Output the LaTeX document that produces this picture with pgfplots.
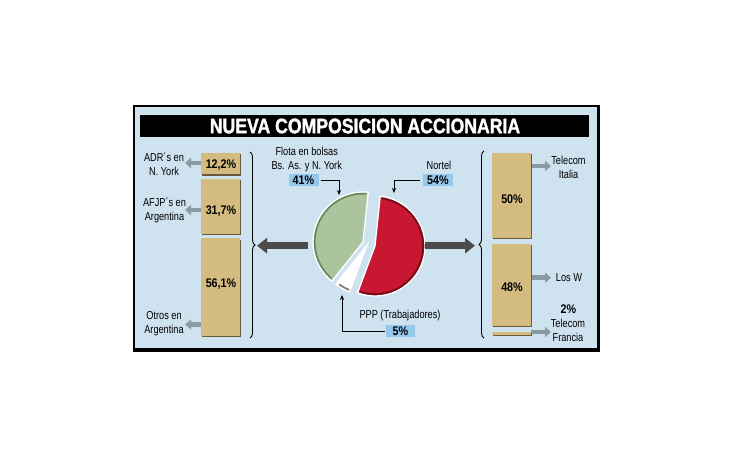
\documentclass[border=0pt]{standalone}
\usepackage{pgfplots}
\pgfplotsset{compat=1.18}
\usepackage{fontspec}
\setmainfont{Liberation Sans}
\newfontfamily\cond[FakeStretch=0.8]{Liberation Sans}
\newfontfamily\condb[FakeStretch=0.86]{Liberation Sans}
\newfontfamily\titlef[FakeStretch=0.84,FakeBold=1.4]{Liberation Sans Bold}
\usetikzlibrary{arrows.meta,decorations.pathreplacing}

\definecolor{panel}{RGB}{207,226,240}
\definecolor{tanc}{RGB}{212,188,128}
\definecolor{tandark}{RGB}{105,88,58}
\definecolor{boxblue}{RGB}{150,200,236}
\definecolor{grayarrow}{RGB}{140,154,164}
\definecolor{bigarrow}{RGB}{75,75,75}
\definecolor{piegreen}{RGB}{170,196,158}
\definecolor{piegreendark}{RGB}{105,135,95}
\definecolor{piered}{RGB}{200,23,48}
\definecolor{pieredrim}{RGB}{120,10,25}

\newcommand\lab{\cond\fontsize{11.5pt}{14pt}\selectfont}
\newcommand\pct{\condb\bfseries\fontsize{12.5pt}{14pt}\selectfont}

% pie values (%)
\def\pNortel{54}
\def\pPPP{5}
\def\pFlota{41}
\pgfmathsetmacro\aA{84}
\pgfmathsetmacro\aB{\aA-\pNortel*3.6}
\pgfmathsetmacro\aC{\aB-\pPPP*3.6}
\pgfmathsetmacro\aD{\aC-\pFlota*3.6}
\pgfmathsetmacro\aAi{\aA-2}
\pgfmathsetmacro\aBi{\aB+2}
\pgfmathsetmacro\aBj{\aB-1}
\pgfmathsetmacro\aCj{\aC+3}
\pgfmathsetmacro\aCi{\aC-2}
\pgfmathsetmacro\aDi{\aD+2}

\pgfplotsset{tanbar/.style={fill=tanc, draw=none,
  preaction={fill=tandark, transform canvas={shift={(1.4pt,-1.4pt)}}}}}

\begin{document}
\begin{tikzpicture}
\begin{axis}[at={(0pt,0pt)}, anchor=south west, width=730pt, height=460pt,
  scale only axis, xmin=0, xmax=730, ymin=0, ymax=460, hide axis, clip=false]
  \fill[white] (axis cs:0,0) rectangle (axis cs:730,460);
  % panel
  \fill[black] (axis cs:133,108) rectangle (axis cs:600,354.5);
  \fill[panel] (axis cs:135.3,112) rectangle (axis cs:597,352.5);
  % title bar
  \fill[black] (axis cs:140,322.7) rectangle (axis cs:589,345);
  \node[text=white, font={\titlef\fontsize{21pt}{24pt}\selectfont}] at (axis cs:365,334) {NUEVA COMPOSICION ACCIONARIA};

  % pie: red (Nortel)
  \fill[piered] (axis cs:375,214) -- ++(\aA:50pt) arc[start angle=\aA, end angle=\aB, radius=50pt] -- cycle;
  \draw[pieredrim, line width=2.5pt] (axis cs:375,214) ++(\aAi:48.5pt) arc[start angle=\aAi, end angle=\aBi, radius=48.5pt];
  \draw[white, line width=1.3pt] (axis cs:375,214) -- ++(\aA:50pt) arc[start angle=\aA, end angle=\aB, radius=50pt] -- cycle;
  % white (PPP)
  \fill[white] (axis cs:367,215) -- ++(\aB:50pt) arc[start angle=\aB, end angle=\aC, radius=50pt] -- cycle;
  \draw[gray, line width=2.2pt] (axis cs:367,215) ++(\aBj:48.5pt) arc[start angle=\aBj, end angle=\aCj, radius=48.5pt];
  \draw[white, line width=1.3pt] (axis cs:367,215) -- ++(\aB:50pt) arc[start angle=\aB, end angle=\aC, radius=50pt] -- cycle;
  % green (Flota)
  \fill[piegreen] (axis cs:363,218) -- ++(\aC:50pt) arc[start angle=\aC, end angle=\aD, radius=50pt] -- cycle;
  \draw[piegreendark, line width=2pt] (axis cs:363,218) ++(\aCi:48.5pt) arc[start angle=\aCi, end angle=\aDi, radius=48.5pt];
  \draw[white, line width=1.3pt] (axis cs:363,218) -- ++(\aC:50pt) arc[start angle=\aC, end angle=\aD, radius=50pt] -- cycle;

  % big arrows
  \draw[bigarrow, line width=7pt, -{Triangle[width=15pt,length=10pt]}] (axis cs:308,214.3) -- (axis cs:257,214.3);
  \draw[bigarrow, line width=7pt, -{Triangle[width=15pt,length=10pt]}] (axis cs:425,214.3) -- (axis cs:475,214.3);

  % braces
  \draw[black, line width=0.9pt, decorate, decoration={brace, amplitude=5pt}] (axis cs:250,308) -- (axis cs:250,122);
  \draw[black, line width=0.9pt, decorate, decoration={brace, amplitude=5pt}] (axis cs:484,122) -- (axis cs:484,309);

  % small gray arrows
  \draw[grayarrow, line width=4.5pt, -{Triangle[width=10pt,length=6pt]}] (axis cs:202,297) -- (axis cs:185,297);
  \draw[grayarrow, line width=4.5pt, -{Triangle[width=10pt,length=6pt]}] (axis cs:202,250) -- (axis cs:185,250);
  \draw[grayarrow, line width=4.5pt, -{Triangle[width=10pt,length=6pt]}] (axis cs:202,135.5) -- (axis cs:185,135.5);
  \draw[grayarrow, line width=4.5pt, -{Triangle[width=10pt,length=6pt]}] (axis cs:531,294) -- (axis cs:551,294);
  \draw[grayarrow, line width=4.5pt, -{Triangle[width=10pt,length=6pt]}] (axis cs:531,182.3) -- (axis cs:551,182.3);
  \draw[grayarrow, line width=4.5pt, -{Triangle[width=10pt,length=6pt]}] (axis cs:531,128) -- (axis cs:551,128);

  % left labels
  \node[align=center, font=\lab] at (axis cs:164,296) {ADR´s en\\N. York};
  \node[align=center, font=\lab] at (axis cs:164.5,250) {AFJP´s en\\Argentina};
  \node[align=center, font=\lab] at (axis cs:164,136) {Otros en\\Argentina};
  % right labels
  \node[align=center, font=\lab] at (axis cs:568.5,292.5) {Telecom\\Italia};
  \node[align=center, font=\lab] at (axis cs:569,182.3) {Los W};
  \node[align=center, font=\pct] at (axis cs:568.5,151) {2\%};
  \node[align=center, font=\lab] at (axis cs:568,129.7) {Telecom\\Francia};

  % pie labels
  \node[align=center, font=\lab] at (axis cs:306.7,300.3) {Flota en bolsas\\Bs. As. y N. York};
  \node[font=\lab] at (axis cs:439,294.3) {Nortel};
  \node[font=\lab] at (axis cs:400,144) {PPP (Trabajadores)};
  \node[fill=boxblue, font=\pct, minimum width=30pt, minimum height=12pt, inner sep=0pt] at (axis cs:303.5,280) {41\%};
  \node[fill=boxblue, font=\pct, minimum width=30pt, minimum height=12pt, inner sep=0pt] at (axis cs:438,280) {54\%};
  \node[fill=boxblue, font=\pct, minimum width=29pt, minimum height=12pt, inner sep=0pt] at (axis cs:400.5,129) {5\%};
  \draw[black, line width=0.8pt, -{Stealth[width=4pt,length=5pt]}] (axis cs:321,280) -- (axis cs:339,280) -- (axis cs:339,265);
  \draw[black, line width=0.8pt, -{Stealth[width=4pt,length=5pt]}] (axis cs:420,280) -- (axis cs:394,280) -- (axis cs:394,267);
  \draw[black, line width=0.8pt, -{Stealth[width=4pt,length=5pt]}] (axis cs:385,129) -- (axis cs:342,129) -- (axis cs:342,165);
\end{axis}

% left stacked bar
\begin{axis}[at={(201pt,124pt)}, anchor=south west, width=39pt, height=183pt,
  scale only axis, hide axis, xmin=-0.5, xmax=0.5, ymin=0, ymax=105,
  ybar stacked, bar width=39pt, clip=false]
  \addplot[tanbar] coordinates {(0,56.1)};
  \addplot[draw=none, fill=none] coordinates {(0,2.5)};
  \addplot[tanbar] coordinates {(0,31.7)};
  \addplot[draw=none, fill=none] coordinates {(0,2.5)};
  \addplot[tanbar] coordinates {(0,12.2)};
\end{axis}

% right stacked bar
\begin{axis}[at={(492pt,125pt)}, anchor=south west, width=39pt, height=182pt,
  scale only axis, hide axis, xmin=-0.5, xmax=0.5, ymin=0, ymax=107,
  ybar stacked, bar width=39pt, clip=false]
  \addplot[tanbar] coordinates {(0,2)};
  \addplot[draw=none, fill=none] coordinates {(0,3.5)};
  \addplot[tanbar] coordinates {(0,48)};
  \addplot[draw=none, fill=none] coordinates {(0,3.5)};
  \addplot[tanbar] coordinates {(0,50)};
\end{axis}

% bar value labels
\node[font=\pct] at (221pt,295pt) {12,2\%};
\node[font=\pct] at (221pt,249pt) {31,7\%};
\node[font=\pct] at (221pt,176pt) {56,1\%};
\node[font=\pct] at (512pt,261pt) {50\%};
\node[font=\pct] at (512pt,173pt) {48\%};
\end{tikzpicture}
\end{document}
